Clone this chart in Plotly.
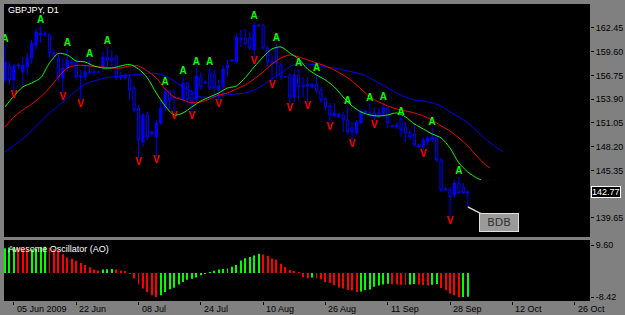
import plotly.graph_objects as go

# ---------------- data ----------------
bars = list(range(105))
opens = [156.21,157.89,156.21,157.89,157.17,157.77,158.85,160.41,161.61,161.85,
         161.61,159.45,158.85,156.45,157.77,158.37,158.37,156.57,156.57,157.17,
         157.17,157.17,157.77,158.97,158.85,158.97,156.45,156.81,156.45,155.25,
         152.85,148.77,152.01,149.73,149.37,151.05,152.85,154.89,154.05,154.05,
         153.93,155.85,154.53,153.81,156.57,155.97,157.05,156.93,155.01,155.49,
         157.65,158.49,158.37,161.25,161.25,161.25,159.81,162.81,162.81,160.05,
         158.37,160.05,158.01,156.57,156.81,154.17,156.81,155.61,155.49,155.37,
         155.73,155.01,153.93,153.09,151.89,151.77,152.01,151.41,150.45,149.85,
         151.05,152.25,152.01,152.25,152.25,152.13,152.85,150.69,150.57,151.53,
         150.57,149.85,149.73,148.17,148.17,148.77,149.01,149.37,146.61,143.13,
         143.01,142.41,143.85,143.37,142.65]
highs = [160.41,158.37,158.13,158.25,158.97,159.45,161.01,162.45,162.69,162.09,
         161.85,159.93,159.33,158.85,159.93,158.61,158.97,157.41,158.01,158.61,
         157.65,157.29,159.57,160.17,159.81,159.21,157.17,157.05,156.81,155.49,
         153.21,152.25,152.37,150.09,151.41,153.81,155.25,155.01,155.01,154.17,
         156.57,155.97,155.01,157.65,157.17,156.21,157.65,157.41,156.21,158.01,
         158.61,158.61,161.85,162.21,162.33,161.97,163.17,162.93,162.93,160.29,
         159.21,160.53,158.25,156.69,157.05,157.41,157.53,156.57,156.57,155.73,
         156.93,155.37,154.17,153.45,153.45,152.25,152.37,152.97,151.17,151.41,
         152.73,152.61,153.33,152.97,152.85,153.45,152.97,150.81,151.17,151.65,
         151.17,150.21,151.05,148.53,149.37,149.61,150.45,149.61,146.85,143.37,
         143.37,144.21,144.57,143.85,142.89]
lows = [155.85,155.61,154.89,157.53,155.61,156.81,158.13,159.81,160.65,161.37,
        158.85,158.61,155.97,154.65,157.17,157.89,156.21,153.81,156.21,156.93,
        156.81,157.05,157.17,157.77,157.89,156.21,156.21,156.21,153.81,152.37,
        146.85,148.17,149.01,149.37,147.09,150.81,152.49,152.61,152.37,153.93,
        153.57,153.45,152.37,153.45,155.01,155.73,155.01,154.17,153.81,154.41,
        156.57,158.37,158.13,160.17,160.41,159.81,158.97,162.57,159.81,157.77,
        156.09,156.45,156.21,156.45,153.33,153.57,153.69,154.17,153.57,155.25,
        154.65,153.45,152.61,151.05,151.65,151.65,149.97,149.61,149.01,149.61,
        150.93,152.13,151.77,151.29,151.65,151.77,150.45,150.57,150.33,149.37,
        148.77,149.01,148.17,148.05,147.81,148.41,148.77,146.37,142.77,142.89,
        139.77,142.05,142.53,142.53,140.97]
closes = [158.37,156.21,157.89,158.01,158.01,158.85,160.65,161.97,161.85,161.61,
          159.45,159.09,156.45,157.65,158.61,158.13,156.57,156.69,157.17,157.11,
          157.13,157.15,158.97,158.61,158.49,156.45,156.69,156.45,155.01,152.61,
          149.01,152.01,149.37,149.97,151.05,152.85,154.77,153.81,154.17,154.07,
          155.85,153.81,153.45,156.69,155.37,155.85,155.25,155.25,155.49,157.53,
          158.01,158.61,161.37,161.13,160.53,160.05,162.81,162.75,160.05,158.37,
          158.13,158.25,156.57,156.60,154.17,156.81,155.37,155.37,155.73,155.73,
          154.89,153.81,152.97,152.01,152.25,152.13,151.41,149.97,149.97,151.17,
          152.49,152.49,152.25,151.77,151.89,152.85,151.05,150.66,150.81,150.21,
          149.85,149.37,148.41,148.41,149.01,149.25,149.37,146.61,143.01,143.01,
          142.17,143.85,142.65,142.65,142.77]

up_fractals = [0, 8, 14, 19, 23, 36, 40, 43, 46, 56, 61, 66, 70, 77, 82, 85, 89, 96, 102]
down_fractals = [2, 13, 17, 30, 34, 38, 42, 48, 56, 60, 64, 68, 73, 78, 83, 94, 100]

ma_x = list(range(0, 105, 2))
lips_x = ma_x + [106, 107]
lips = [152.97,154.29,155.37,155.85,156.45,158.25,159.39,159.21,158.49,158.37,
        157.89,157.65,157.65,157.89,158.07,157.53,156.45,154.65,153.09,152.01,
        152.25,152.97,153.69,154.17,154.65,155.25,155.49,156.51,157.77,158.97,
        159.93,160.17,159.45,158.73,157.53,156.81,156.21,155.37,154.17,153.09,
        152.37,152.01,151.89,152.01,152.25,151.77,150.93,150.33,149.73,149.25,
        148.05,146.25,145.17,144.45,144.21]
teeth_x = ma_x + [106, 108, 109]
teeth = [150.57,151.77,152.61,153.33,154.17,155.25,156.57,157.65,157.95,157.95,
         157.83,157.77,157.65,157.65,157.89,157.89,157.29,156.45,155.13,154.17,
         153.81,153.45,153.57,153.93,154.41,154.65,155.13,155.61,156.33,157.17,
         158.13,158.85,159.21,158.97,158.61,158.25,157.89,157.41,156.81,156.09,
         155.13,154.17,153.57,153.09,152.73,152.49,152.25,151.89,151.41,150.69,
         150.09,149.25,148.29,147.09,146.01,145.65]
jaw_x = ma_x + [106, 108, 110, 112]
jaw = [147.57,148.35,149.13,150.15,151.17,152.25,153.09,154.05,154.95,155.73,
       156.09,156.39,156.57,156.69,156.81,156.87,156.99,156.99,156.69,156.09,
       155.37,154.77,154.17,154.17,154.29,154.41,154.53,154.65,155.01,155.61,
       156.33,157.05,157.77,158.25,158.13,158.01,157.77,157.65,157.41,157.17,
       156.93,156.45,155.85,155.25,154.65,154.17,153.81,153.69,153.45,153.09,
       152.37,151.77,151.05,150.09,149.13,148.29,147.57]

ao = [8.6,8.8,9.0,8.7,8.5,8.0,8.2,8.4,8.9,9.1,
      8.8,8.3,7.9,6.5,5.4,4.9,4.2,3.5,2.8,2.0,
      1.2,0.9,1.2,1.3,1.4,1.2,0.9,0.4,-0.3,-1.9,
      -4.0,-5.4,-6.6,-7.7,-8.3,-7.7,-6.6,-5.6,-5.1,-4.0,
      -3.1,-2.3,-2.0,-1.6,-0.8,-0.3,0.2,0.8,1.2,1.4,
      1.6,2.2,2.8,4.3,5.1,5.5,6.1,6.7,6.4,6.0,
      5.0,4.7,3.2,2.1,1.0,0.6,0.1,-1.4,-1.8,-1.6,
      -1.9,-2.2,-3.1,-3.4,-4.2,-5.0,-5.4,-5.9,-6.1,-6.6,
      -6.4,-5.9,-5.7,-4.8,-4.3,-4.0,-3.7,-3.9,-4.0,-4.1,
      -4.2,-4.0,-3.8,-4.0,-4.2,-4.3,-4.1,-3.8,-5.2,-6.0,
      -7.1,-7.7,-8.42,-8.3,-8.2]

price_ticks = [162.45, 159.60, 156.75, 153.90, 151.05, 148.20, 145.35, 139.65]
ao_ticks = [9.60, -8.42]
date_pos = [2, 16, 30, 44, 58, 72, 86, 100, 114, 128]
date_labels = ["05 Jun 2009", "22 Jun", "08 Jul", "24 Jul", "10 Aug",
               "26 Aug", "11 Sep", "28 Sep", "12 Oct", "26 Oct"]

# ---------------- figure ----------------
W, H = 625, 315
def py(p):
    return 1 - p / H

FONT = "Liberation Sans Narrow, Arial Narrow, Liberation Sans, sans-serif"
XDOM = [4 / W, 590 / W]
XR = [-0.2247, 131.46]

fig = go.Figure()
fig.add_trace(go.Candlestick(
    x=bars, open=opens, high=highs, low=lows, close=closes,
    increasing=dict(line=dict(color="#0000ff", width=1), fillcolor="#0000ff"),
    decreasing=dict(line=dict(color="#0000ff", width=1), fillcolor="#000000"),
    whiskerwidth=0, hoverinfo="skip", xaxis="x", yaxis="y"))

for xs, ys, col in [(jaw_x, jaw, "#0000ff"), (teeth_x, teeth, "#ff0000"), (lips_x, lips, "#00ff00")]:
    fig.add_trace(go.Scatter(x=xs, y=ys, mode="lines",
                             line=dict(color=col, width=1, shape="spline", smoothing=0.8),
                             hoverinfo="skip", xaxis="x", yaxis="y"))

fig.add_trace(go.Scatter(x=up_fractals, y=[highs[i] for i in up_fractals], mode="text",
                         text=["A"] * len(up_fractals), textposition="top center",
                         textfont=dict(color="#00ff00", size=10, family=FONT, weight="bold"),
                         hoverinfo="skip", xaxis="x", yaxis="y"))
fig.add_trace(go.Scatter(x=down_fractals, y=[lows[i] for i in down_fractals], mode="text",
                         text=["V"] * len(down_fractals), textposition="bottom center",
                         textfont=dict(color="#ff0000", size=10, family=FONT, weight="bold"),
                         hoverinfo="skip", xaxis="x", yaxis="y"))

ao_colors = ["#00ff00"] + ["#00ff00" if ao[i] > ao[i - 1] else "#ff0000" for i in range(1, len(ao))]
fig.add_trace(go.Bar(x=bars, y=ao, marker=dict(color=ao_colors, line=dict(width=0)),
                     width=0.22, hoverinfo="skip", xaxis="x2", yaxis="y2"))

axfont = dict(family=FONT, size=9, color="#000000")
fig.update_layout(
    width=W, height=H, margin=dict(l=0, r=0, t=0, b=0),
    paper_bgcolor="#808080", plot_bgcolor="#000000", showlegend=False,
    xaxis=dict(domain=XDOM, range=XR, anchor="y", showgrid=False, zeroline=False,
               showticklabels=False, ticks="", rangeslider=dict(visible=False), fixedrange=True),
    yaxis=dict(domain=[py(237), py(4)], range=[137.36, 165.33], side="right", anchor="x",
               tickvals=price_ticks, ticktext=["%.2f" % v for v in price_ticks],
               ticks="outside", ticklen=3, tickcolor="#000000", showgrid=False, zeroline=False,
               tickfont=axfont, fixedrange=True),
    xaxis2=dict(domain=XDOM, range=XR, anchor="y2", showgrid=False, zeroline=False,
                tickvals=date_pos, ticks="outside", ticklen=3, tickcolor="#000000",
                showticklabels=False, fixedrange=True),
    yaxis2=dict(domain=[py(301), py(240)], range=[-9.70, 11.43], side="right", anchor="x2",
                tickvals=ao_ticks, ticktext=["%.2f" % v for v in ao_ticks],
                ticks="outside", ticklen=3, tickcolor="#000000", showgrid=False, zeroline=False,
                tickfont=axfont, fixedrange=True),
)

ann = []
for pos, lab in zip(date_pos, date_labels):
    ann.append(dict(x=pos, xref="x2", y=py(308.5), yref="paper", text=lab, showarrow=False,
                    xanchor="left", yanchor="middle", xshift=1, font=axfont))
ann.append(dict(x=6 / W, xref="paper", y=py(10), yref="paper", text="GBPJPY, D1", showarrow=False,
                xanchor="left", yanchor="middle", font=dict(family=FONT, size=9, color="#ffffff")))
ann.append(dict(x=6 / W, xref="paper", y=py(249), yref="paper", text="Awesome Oscillator (AO)",
                showarrow=False, xanchor="left", yanchor="middle",
                font=dict(family=FONT, size=9, color="#ffffff")))
ann.append(dict(x=591 / W, xref="paper", y=closes[-1], yref="y", text="%.2f" % closes[-1],
                showarrow=False, xanchor="left", yanchor="middle", bgcolor="#000000",
                bordercolor="#ffffff", borderwidth=1, borderpad=0,
                font=dict(family=FONT, size=9, color="#ffffff")))
ann.append(dict(x=bars[-1], xref="x", y=lows[-1], yref="y", text="BDB", showarrow=True,
                arrowhead=0, arrowwidth=1.5, arrowcolor="#d8d8d8", ax=31, ay=16,
                bgcolor="#9a9a9a", bordercolor="#e0e0e0", borderwidth=1, borderpad=2,
                width=34, font=dict(family="DejaVu Sans, sans-serif", size=11, color="#333333")))
fig.update_layout(annotations=ann)

fig.write_html("out.html")
